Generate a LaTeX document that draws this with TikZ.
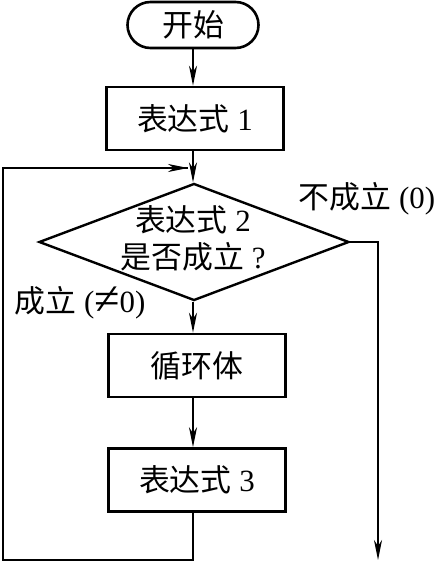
\documentclass[tikz,border=0pt]{standalone}
\usepackage{fontspec}
\usepackage{graphicx}
\setmainfont{Liberation Serif}
\newfontfamily\cjk{Noto Sans CJK SC}
\usetikzlibrary{shapes.geometric,arrows.meta}
\begin{document}
\begin{tikzpicture}[x=1bp,y=-1bp, font=\fontsize{31}{37}\selectfont,
  box/.style={draw, line width=2.6bp, minimum width=177bp, minimum height=63bp, inner sep=0pt},
  link/.style={line width=1.3bp},
  arr/.style={link, -{Stealth[length=20bp,width=8bp,inset=6bp]}}]
\useasboundingbox (0,0) rectangle (438,563);
\node[draw, line width=2.6bp, minimum width=131bp, minimum height=46bp, rounded corners=23bp, inner sep=0pt] (start) at (193,25) {\cjk 开始};
\node[box] (e1) at (195,118.5) {{\cjk 表达式} 1};
\node[diamond, draw, line width=2.4bp, minimum width=310bp, minimum height=117bp, inner sep=0pt] (cond) at (194,242) {\phantom{x}};
\node[align=center, font=\fontsize{31}{37}\selectfont] (condtxt) at (193,238) {{\cjk 表达式} 2\\{\cjk 是否成立} ?};
\node[box] (body) at (197,365.5) {\cjk 循环体};
\node[box] (e3) at (197,480) {{\cjk 表达式} 3};
\node (no) at (367,199) {{\cjk 不成立} (0)};
\node (yes) at (80,303) {{\cjk 成立} (\raisebox{-0.05em}{\scalebox{1.5}{≠}}0)};
\coordinate (rt) at (378,242);
\coordinate (rb) at (378,560);
\coordinate (bb) at (193,560);
\coordinate (lb) at (3,560);
\coordinate (lt) at (3,168);
\coordinate (ft) at (188,168);
\draw[arr] (start.south -| 193,0) -- (e1.north -| 193,0);
\draw[arr] (e1.south -| 193,0) -- (cond.north -| 193,0);
\draw[arr] (cond.south -| 193,0) -- (body.north -| 193,0);
\draw[arr] (body.south -| 193,0) -- (e3.north -| 193,0);
\draw[arr] (cond.east) -- (rt) -- (rb);
\draw[link] (e3.south -| bb) -- (bb) -- (lb) -- (lt) -- (ft);
\draw[arr] (lt) -- (ft);
\end{tikzpicture}
\end{document}
